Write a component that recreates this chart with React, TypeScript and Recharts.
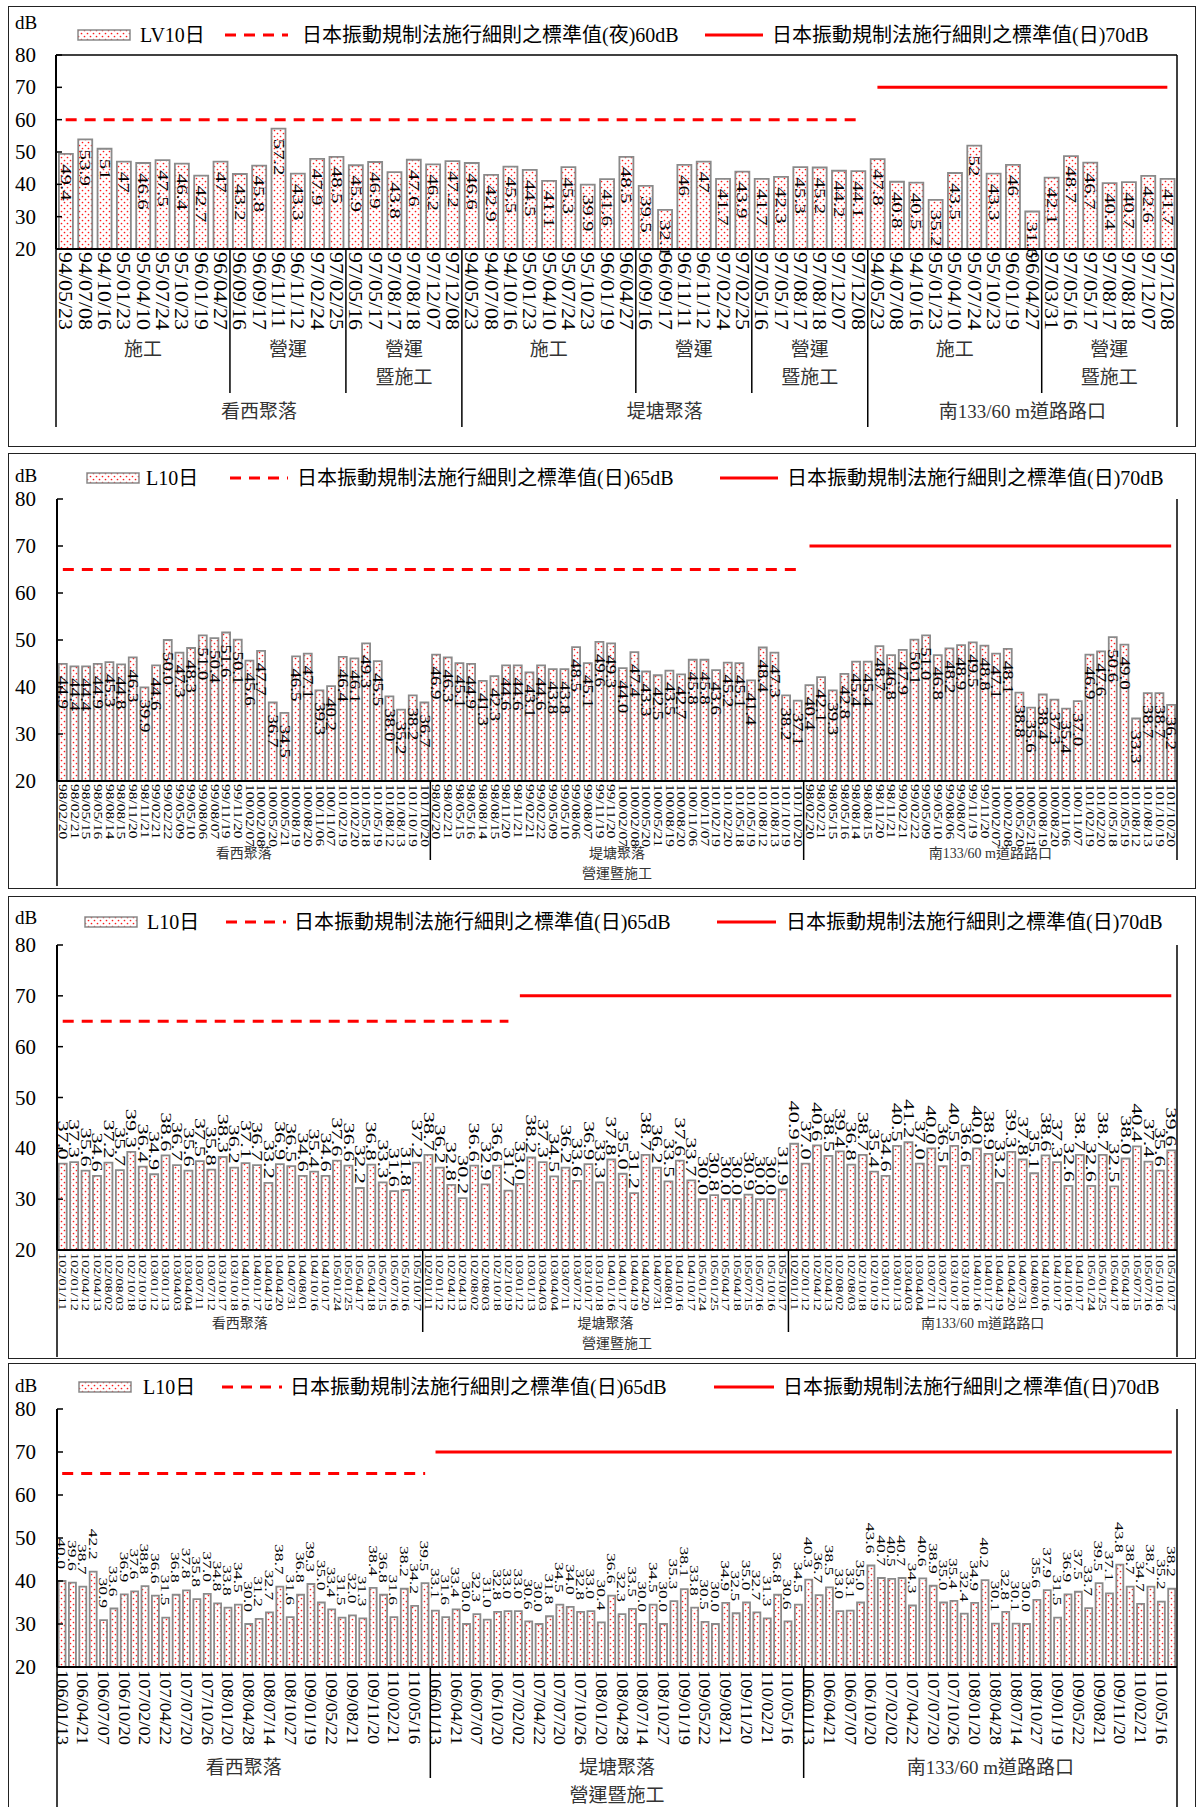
import React from 'react';
import { ComposedChart, Bar, Line, XAxis, YAxis, LabelList, ReferenceLine } from 'recharts';

const FONT = '"Liberation Serif", "Times New Roman", "Noto Sans CJK TC", serif';
const RED = '#ff0000';

// 測站
const SITES = ['看西聚落', '堤塘聚落', '南133/60 m道路路口'];

// ---- 圖一 94~97年 (LV10日)
const P1_DATES_AB = ['94/05/23', '94/07/08', '94/10/16', '95/01/23', '95/04/10', '95/07/24', '95/10/23', '96/01/19', '96/04/27',
  '96/09/16', '96/09/17', '96/11/11', '96/11/12', '97/02/24', '97/02/25',
  '97/05/16', '97/05/17', '97/08/17', '97/08/18', '97/12/07', '97/12/08'];
const P1_DATES_C = ['94/05/23', '94/07/08', '94/10/16', '95/01/23', '95/04/10', '95/07/24', '95/10/23', '96/01/19', '96/04/27',
  '97/03/31', '97/05/16', '97/05/17', '97/08/17', '97/08/18', '97/12/07', '97/12/08'];
const P1_KANXI = [49.4, 53.9, 51, 47, 46.6, 47.5, 46.4, 42.7, 47, 43.2, 45.8, 57.2, 43.3, 47.9, 48.5, 45.9, 46.9, 43.8, 47.6, 46.2, 47.2];
const P1_DITANG = [46.6, 42.9, 45.5, 44.5, 41.1, 45.3, 39.9, 41.6, 48.5, 39.5, 32.1, 46, 47, 41.7, 43.9, 41.7, 42.3, 45.3, 45.2, 44.2, 44.1];
const P1_NAN = [47.8, 40.8, 40.5, 35.2, 43.5, 52, 43.3, 46.0, 31.6, 42.1, 48.7, 46.7, 40.4, 40.7, 42.6, 41.7];
const P1_PHASES_AB: [string, number][] = [['施工', 9], ['營運', 6], ['營運暨施工', 6]];
const P1_PHASES_C: [string, number][] = [['施工', 9], ['營運暨施工', 7]];

// ---- 圖二 98~101年
const P2_DATES = ['98/02/20', '98/02/21', '98/05/15', '98/05/16', '98/08/14', '98/08/15', '98/11/20', '98/11/21',
  '99/02/21', '99/02/22', '99/05/09', '99/05/10', '99/08/06', '99/08/07', '99/11/19', '99/11/20',
  '100/02/07', '100/02/08', '100/05/20', '100/05/21', '100/08/19', '100/08/20', '100/11/06', '100/11/07',
  '101/02/19', '101/02/20', '101/05/18', '101/05/19', '101/08/12', '101/08/13', '101/10/19', '101/10/20'];
const P2_KANXI = [44.9, 44.4, 44.4, 44.9, 45.3, 44.8, 46.3, 39.9, 44.6, 50.0, 47.3, 48.3, 51.0, 50.4, 51.6, 50.1,
  45.6, 47.7, 36.7, 34.5, 46.5, 47.1, 39.3, 40.2, 46.4, 46.1, 49.3, 45.5, 38.0, 35.2, 38.2, 36.7];
const P2_DITANG = [46.9, 46.3, 45.1, 44.9, 41.3, 42.3, 44.6, 44.6, 43.1, 44.6, 43.8, 43.8, 48.5, 45.1, 49.6, 49.3,
  44.0, 47.4, 43.3, 42.5, 43.5, 42.7, 45.8, 45.8, 43.6, 45.2, 45.1, 41.4, 48.4, 47.3, 38.2, 37.1];
const P2_NAN = [40.4, 42.1, 39.3, 42.8, 45.4, 45.4, 48.7, 46.8, 47.9, 50.1, 51.0, 46.8, 48.2, 48.9, 49.5, 48.8,
  47.1, 48.1, 38.8, 35.6, 38.4, 37.3, 35.4, 37.0, 46.9, 47.6, 50.6, 49.0, 33.3, 38.7, 38.7, 36.2];

// ---- 圖三 102~105年
const P3_DATES = ['102/01/11', '102/01/12', '102/04/12', '102/04/13', '102/08/02', '102/08/03', '102/10/18', '102/10/19',
  '103/01/12', '103/01/13', '103/04/03', '103/04/04', '103/07/11', '103/07/12', '103/10/17', '103/10/18',
  '104/01/16', '104/01/17', '104/04/19', '104/04/20', '104/07/31', '104/08/01', '104/10/16', '104/10/17',
  '105/01/24', '105/01/25', '105/04/17', '105/04/18', '105/07/15', '105/07/16', '105/10/16', '105/10/17'];
const P3_DATES_C = ['102/01/11', '102/01/12', '102/04/12', '102/04/13', '102/08/02', '102/08/03', '102/10/18', '102/10/19',
  '103/01/12', '103/01/13', '103/04/03', '103/04/04', '103/07/11', '103/07/12', '103/10/17', '103/10/18',
  '104/01/16', '104/01/17', '104/04/19', '104/04/20', '104/07/31', '104/08/01', '104/10/16', '104/10/17',
  '104/10/16', '104/10/17', '105/01/24', '105/01/25', '105/04/17', '105/04/18', '105/07/15', '105/07/16',
  '105/10/16', '105/10/17'];
const P3_KANXI = [37.0, 37.3, 35.6, 34.6, 37.2, 35.7, 39.3, 36.4, 34.9, 38.6, 36.7, 35.6, 37.5, 35.8, 38.3, 36.2,
  37.1, 36.7, 33.2, 36.9, 36.5, 34.6, 35.4, 34.6, 37.6, 36.6, 32.2, 36.8, 33.3, 31.6, 31.8, 37.2];
const P3_DITANG = [38.7, 36.2, 32.8, 30.2, 36.6, 32.9, 36.6, 31.7, 33.0, 38.2, 37.3, 34.5, 36.2, 33.6, 36.9, 33.3,
  37.8, 35.0, 31.2, 38.7, 36.2, 33.5, 37.6, 33.7, 30.0, 30.8, 30.0, 30.0, 30.9, 30.0, 30.0, 31.9];
const P3_NAN = [40.9, 37.0, 40.6, 38.5, 39.4, 36.8, 38.7, 35.4, 34.6, 40.5, 41.2, 37.0, 40.0, 36.5, 40.5, 36.6,
  40.0, 38.9, 33.2, 39.3, 37.8, 35.1, 38.6, 37.3, 32.6, 38.7, 32.6, 38.7, 32.5, 38.0, 40.4, 37.4, 35.6, 39.6];

// ---- 圖四 106~110年 (日期標籤每兩筆一個)
const P4_DATES = ['106/01/13', '106/04/21', '106/07/07', '106/10/20', '107/02/02', '107/04/22', '107/07/20', '107/10/26',
  '108/01/20', '108/04/28', '108/07/14', '108/10/27', '109/01/19', '109/05/22', '109/08/21', '109/11/20',
  '110/02/21', '110/05/16'];
const P4_KANXI = [40.0, 39.6, 38.7, 42.2, 30.9, 33.6, 36.9, 37.6, 38.8, 36.6, 31.5, 36.8, 37.8, 35.8, 37.0, 34.8,
  33.8, 34.5, 30.0, 31.2, 32.7, 38.7, 31.6, 36.8, 39.3, 35.0, 33.4, 31.5, 32.0, 31.3, 38.4, 36.8, 31.6, 38.2, 34.2, 39.5];
const P4_DITANG = [33.1, 31.6, 33.4, 30.0, 32.3, 31.0, 32.8, 33.0, 33.0, 30.6, 30.0, 31.8, 34.5, 34.0, 32.8, 33.0,
  30.4, 36.6, 32.3, 33.5, 30.0, 34.5, 30.0, 35.3, 38.1, 33.8, 30.5, 30.0, 34.9, 32.5, 35.0, 32.7, 31.3, 36.8, 30.6, 34.5];
const P4_NAN = [40.3, 36.7, 38.5, 33.0, 33.1, 35.0, 43.6, 40.7, 40.5, 40.7, 34.3, 40.6, 38.9, 35.0, 35.4, 32.4,
  34.9, 40.2, 30.1, 32.8, 30.1, 30.0, 35.6, 37.9, 31.5, 36.9, 37.5, 33.7, 39.5, 37.1, 43.8, 38.7, 34.7, 38.7, 35.2, 38.2];

const Y_TICKS = [20, 30, 40, 50, 60, 70, 80];

type Row = { k: string; v: number; d: string; night: number | null; day: number | null };

function buildRows(values: number[][], dates: string[][], nightEnd: number, nightVal: number): Row[] {
  const rows: Row[] = [];
  values.forEach((vals, s) => {
    vals.forEach((v, j) => {
      const i = rows.length;
      rows.push({ k: String(i), v, d: dates[s][j] ?? '', night: i <= nightEnd ? nightVal : null, day: i > nightEnd ? 70 : null });
    });
  });
  return rows;
}

function buildGroups(names: string[], counts: number[], base = 0) {
  let start = base;
  return names.map((name, i) => {
    const g = { name, start, count: counts[i] };
    start += counts[i];
    return g;
  });
}

const everyOther = (list: string[]) => list.flatMap((d) => [d, '']);

// 圖一資料
const p1Rows = buildRows([P1_KANXI, P1_DITANG, P1_NAN], [P1_DATES_AB, P1_DATES_AB, P1_DATES_C], 41, 60);
const p1Sites = buildGroups(SITES, [P1_KANXI.length, P1_DITANG.length, P1_NAN.length]);
const p1Phases = [
  ...buildGroups(P1_PHASES_AB.map((p) => p[0]), P1_PHASES_AB.map((p) => p[1]), 0),
  ...buildGroups(P1_PHASES_AB.map((p) => p[0]), P1_PHASES_AB.map((p) => p[1]), 21),
  ...buildGroups(P1_PHASES_C.map((p) => p[0]), P1_PHASES_C.map((p) => p[1]), 42),
];

const p2Rows = buildRows([P2_KANXI, P2_DITANG, P2_NAN], [P2_DATES, P2_DATES, P2_DATES], 63, 65);
const p2Sites = buildGroups(SITES, [P2_KANXI.length, P2_DITANG.length, P2_NAN.length]);

const p3Rows = buildRows([P3_KANXI, P3_DITANG, P3_NAN], [P3_DATES, P3_DATES, P3_DATES_C], 39, 65);
const p3Sites = buildGroups(SITES, [P3_KANXI.length, P3_DITANG.length, P3_NAN.length]);

const p4Rows = buildRows([P4_KANXI, P4_DITANG, P4_NAN], [everyOther(P4_DATES), everyOther(P4_DATES), everyOther(P4_DATES)], 35, 65);
const p4Sites = buildGroups(SITES, [P4_KANXI.length, P4_DITANG.length, P4_NAN.length]);

const STD_NIGHT = '日本振動規制法施行細則之標準值(夜)60dB';
const STD_DAY65 = '日本振動規制法施行細則之標準值(日)65dB';
const STD_DAY70 = '日本振動規制法施行細則之標準值(日)70dB';

const PANELS: any[] = [
  {
    id: 'p1', rows: p1Rows, top: 6, bottom: 447, plotTop: 55, axisY: 249, plotLeft: 56, plotRight: 1177,
    legend: { y: 35, sw: 77, t1: 140, dash: 225, dashW: 63, t2: 302, solid: 705, solidW: 58, t3: 772,
      labels: ['LV10日', STD_NIGHT, STD_DAY70] },
    dBy: 23, frameTop: true,
    dateFont: 18, dateStretch: 1.22, valFont: 15, valStretch: 1.4, valMode: 'inside', valOff: 10,
    fmt: (v: number) => String(v),
    sites: p1Sites, siteY: 411, siteFont: 19, phases: p1Phases, phaseY1: 349, phaseY2: 377, phaseFont: 19,
    phaseSepBottom: 393, siteSepBottom: 427, leftBottom: 427, rightBottom: 427,
  },
  {
    id: 'p2', rows: p2Rows, top: 453, bottom: 889, plotTop: 499, axisY: 781, plotLeft: 57, plotRight: 1177,
    legend: { y: 478, sw: 86, t1: 146, dash: 230, dashW: 58, t2: 297, solid: 720, solidW: 58, t3: 787,
      labels: ['L10日', STD_DAY65, STD_DAY70] },
    dBy: 476,
    dateFont: 11.5, dateStretch: 1.35, valFont: 14.5, valStretch: 1.3, valMode: 'inside', valOff: 12,
    fmt: (v: number) => v.toFixed(1),
    sites: p2Sites, siteY: 853, siteFont: 14, overall: { text: '營運暨施工', y: 873, font: 14 },
    siteSepBottom: 860, leftBottom: 886, rightBottom: 860,
  },
  {
    id: 'p3', rows: p3Rows, top: 896, bottom: 1359, plotTop: 945, axisY: 1250, plotLeft: 57, plotRight: 1177,
    legend: { y: 922, sw: 84, t1: 147, dash: 226, dashW: 60, t2: 294, solid: 717, solidW: 59, t3: 786,
      labels: ['L10日', STD_DAY65, STD_DAY70] },
    dBy: 918,
    dateFont: 11, dateStretch: 1.3, valFont: 14, valStretch: 1.6, valMode: 'above', valOff: 4,
    fmt: (v: number) => v.toFixed(1),
    sites: p3Sites, siteY: 1323, siteFont: 14, overall: { text: '營運暨施工', y: 1343, font: 14 },
    siteSepBottom: 1332, leftBottom: 1357, rightBottom: 1357,
  },
  {
    id: 'p4', rows: p4Rows, top: 1363, bottom: 1809, plotTop: 1409, axisY: 1667, plotLeft: 57, plotRight: 1177,
    legend: { y: 1387, sw: 78, t1: 143, dash: 222, dashW: 60, t2: 290, solid: 714, solidW: 60, t3: 783,
      labels: ['L10日', STD_DAY65, STD_DAY70] },
    dBy: 1386,
    dateFont: 16.5, dateStretch: 1.12, valFont: 13, valStretch: 1.35, valMode: 'above', valOff: 12,
    fmt: (v: number) => v.toFixed(1),
    sites: p4Sites, siteY: 1767, siteFont: 19, overall: { text: '營運暨施工', y: 1795, font: 19 },
    siteSepBottom: 1778, leftBottom: 1809, rightBottom: 1809,
  },
];

function DotPattern({ id }: { id: string }) {
  return (
    <pattern id={id} width={6} height={6} patternUnits="userSpaceOnUse">
      <rect width={6} height={6} fill="#ffffff" />
      <circle cx={1.5} cy={1.5} r={0.85} fill="#ff1a1a" />
      <circle cx={4.5} cy={4.5} r={0.85} fill="#ff1a1a" />
    </pattern>
  );
}

function XTick(props: any) {
  const { x, y, cfg } = props;
  const index = props.index ?? props.payload?.index ?? 0;
  const n = cfg.rows.length;
  const band = (cfg.plotRight - cfg.plotLeft) / n;
  const left = x - band / 2;
  const row = cfg.rows[index];
  const loc = (v: number) => v - cfg.top;
  const items: any[] = [];
  if (row && row.d) {
    items.push(
      <text key="d" transform={`translate(${x},${y + 3}) rotate(90) scale(${cfg.dateStretch},1)`}
        fontSize={cfg.dateFont} textAnchor="start" dominantBaseline="central" fill="#000">{row.d}</text>
    );
  }
  const site = cfg.sites.find((s: any) => s.start === index);
  if (site) {
    const bottom = index === 0 ? cfg.leftBottom : cfg.siteSepBottom;
    items.push(<line key="ss" x1={left} x2={left} y1={y} y2={loc(bottom)} stroke="#000" strokeWidth={1.5} />);
    items.push(
      <text key="sl" x={left + (site.count * band) / 2} y={loc(cfg.siteY)} textAnchor="middle"
        dominantBaseline="central" fontSize={cfg.siteFont} fill="#333">{site.name}</text>
    );
  }
  if (cfg.phases) {
    const ph = cfg.phases.find((p: any) => p.start === index);
    if (ph) {
      if (!site) items.push(<line key="ps" x1={left} x2={left} y1={y} y2={loc(cfg.phaseSepBottom)} stroke="#000" strokeWidth={1.5} />);
      const cx = left + (ph.count * band) / 2;
      const lines = ph.name === '營運暨施工' ? ['營運', '暨施工'] : [ph.name];
      lines.forEach((t: string, li: number) => {
        items.push(
          <text key={'pl' + li} x={cx} y={loc(li === 0 ? cfg.phaseY1 : cfg.phaseY2)} textAnchor="middle"
            dominantBaseline="central" fontSize={cfg.phaseFont} fill="#333">{t}</text>
        );
      });
    }
  }
  if (index === n - 1) {
    items.push(<line key="re" x1={x + band / 2} x2={x + band / 2} y1={loc(cfg.plotTop)} y2={loc(cfg.rightBottom)} stroke="#000" strokeWidth={1.5} />);
  }
  if (index === 0 && cfg.overall) {
    items.push(
      <text key="ov" x={left + (n * band) / 2} y={loc(cfg.overall.y)} textAnchor="middle" dominantBaseline="central"
        fontSize={cfg.overall.font} fill="#333">{cfg.overall.text}</text>
    );
  }
  return <g>{items}</g>;
}

function YTick(props: any) {
  const { x, y, payload } = props;
  return (
    <g>
      <text x={36} y={y} textAnchor="end" dominantBaseline="central" fontSize={21} fill="#000">{payload.value}</text>
      <line x1={x} x2={x + 6} y1={y} y2={y} stroke="#000" strokeWidth={1.5} />
    </g>
  );
}

function ValueLabel(props: any) {
  const { cfg } = props;
  const vb = props.viewBox || props;
  const bx = vb.x ?? props.x;
  const by = vb.y ?? props.y;
  const bw = vb.width ?? props.width;
  if (bx == null || by == null || props.value == null) return null;
  const cx = bx + bw / 2;
  const inside = cfg.valMode === 'inside';
  const ty = inside ? by + cfg.valOff : by - cfg.valOff;
  return (
    <text transform={`translate(${cx},${ty}) rotate(90) scale(${cfg.valStretch},1)`} fontSize={cfg.valFont}
      textAnchor={inside ? 'start' : 'end'} dominantBaseline="central" fill="#000">{cfg.fmt(props.value)}</text>
  );
}

function LegendRow({ cfg }: { cfg: any }) {
  const L = cfg.legend;
  const pid = 'lg-' + cfg.id;
  const base: React.CSSProperties = { position: 'absolute', top: L.y, transform: 'translateY(-50%)', fontSize: 20, lineHeight: '24px', whiteSpace: 'nowrap' };
  return (
    <>
      <svg style={{ position: 'absolute', left: L.sw, top: L.y - 6 }} width={54} height={12}>
        <defs><DotPattern id={pid} /></defs>
        <rect x={1} y={1} width={52} height={10} fill={`url(#${pid})`} stroke="#8a8a8a" strokeWidth={1.5} />
      </svg>
      <div style={{ ...base, left: L.t1 }}>{L.labels[0]}</div>
      <svg style={{ position: 'absolute', left: L.dash, top: L.y - 3 }} width={L.dashW} height={6}>
        <line x1={0} x2={L.dashW} y1={3} y2={3} stroke={RED} strokeWidth={3} strokeDasharray="11 8" />
      </svg>
      <div style={{ ...base, left: L.t2 }}>{L.labels[1]}</div>
      <svg style={{ position: 'absolute', left: L.solid, top: L.y - 3 }} width={L.solidW} height={6}>
        <line x1={0} x2={L.solidW} y1={3} y2={3} stroke={RED} strokeWidth={3} />
      </svg>
      <div style={{ ...base, left: L.t3 }}>{L.labels[2]}</div>
    </>
  );
}

function Panel({ cfg }: { cfg: any }) {
  const height = cfg.bottom - cfg.top;
  const pid = 'dots-' + cfg.id;
  return (
    <>
      <div style={{ position: 'absolute', left: 8, top: cfg.top, width: 1188, height, border: '1.5px solid #222', boxSizing: 'border-box' }} />
      <div style={{ position: 'absolute', left: 15, top: cfg.dBy, transform: 'translateY(-50%)', fontSize: 19, lineHeight: '22px' }}>dB</div>
      <LegendRow cfg={cfg} />
      <div style={{ position: 'absolute', left: 0, top: cfg.top }}>
        <ComposedChart width={1198} height={height} data={cfg.rows} barCategoryGap="15%"
          margin={{ top: cfg.plotTop - cfg.top, right: 1198 - cfg.plotRight, bottom: 0, left: 0 }}>
          <defs><DotPattern id={pid} /></defs>
          <XAxis dataKey="k" height={cfg.bottom - cfg.axisY} interval={0} tickLine={false} tickSize={0} tickMargin={0}
            axisLine={{ stroke: '#000', strokeWidth: 2 }} tick={(p: any) => <XTick {...p} cfg={cfg} />} />
          <YAxis domain={[20, 80]} ticks={Y_TICKS} interval={0} allowDataOverflow width={cfg.plotLeft}
            tickLine={false} tickSize={0} tickMargin={0} axisLine={{ stroke: '#000', strokeWidth: 2 }}
            tick={(p: any) => <YTick {...p} />} />
          {cfg.frameTop && <ReferenceLine y={80} stroke="#000" strokeWidth={1.5} />}
          <Bar dataKey="v" fill={`url(#${pid})`} stroke="#8a8a8a" strokeWidth={1.8} isAnimationActive={false}>
            <LabelList dataKey="v" content={(p: any) => <ValueLabel {...p} cfg={cfg} />} />
          </Bar>
          <Line dataKey="night" stroke={RED} strokeWidth={3} strokeDasharray="11 8" dot={false} activeDot={false}
            connectNulls={false} isAnimationActive={false} />
          <Line dataKey="day" stroke={RED} strokeWidth={3} dot={false} activeDot={false}
            connectNulls={false} isAnimationActive={false} />
        </ComposedChart>
      </div>
    </>
  );
}

export default function App() {
  return (
    <div style={{ position: 'relative', width: 1198, height: 1807, overflow: 'hidden', background: '#fff', fontFamily: FONT, color: '#000' }}>
      <style>{`body{margin:0;} svg text{font-family:${FONT};}`}</style>
      {PANELS.map((cfg) => <Panel key={cfg.id} cfg={cfg} />)}
    </div>
  );
}
